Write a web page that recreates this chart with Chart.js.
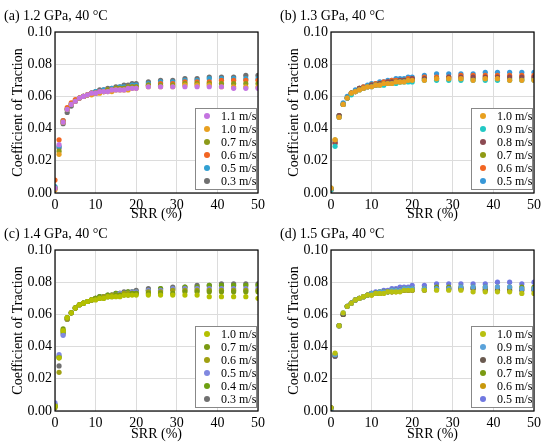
<!DOCTYPE html>
<html>
<head>
<meta charset="utf-8">
<script src="https://cdn.jsdelivr.net/npm/chart.js@4"></script>
<style>
  body { margin: 0; background: #fff; }
  #wrap { position: relative; width: 550px; height: 447px; }
  .panel { position: absolute; }
</style>
</head>
<body>
<div id="wrap">
  <div class="panel" style="left:0;top:0;width:275px;height:223px"><canvas id="cA"></canvas></div>
  <div class="panel" style="left:276px;top:0;width:274px;height:223px"><canvas id="cB"></canvas></div>
  <div class="panel" style="left:0;top:223px;width:275px;height:224px"><canvas id="cC"></canvas></div>
  <div class="panel" style="left:276px;top:223px;width:274px;height:224px"><canvas id="cD"></canvas></div>
</div>
<script>
// SRR (%) sampling points, shared by all panels
const srr = [0, 1, 2, 3, 4, 5, 6, 7, 8, 9, 10, 11, 12, 13, 14, 15, 16, 17, 18, 19, 20,
             23, 26, 29, 32, 35, 38, 41, 44, 47, 50];
const xTicks = [0, 10, 20, 30, 40, 50];
const yTicks = [0.00, 0.02, 0.04, 0.06, 0.08, 0.10];

// (a) 1.2 GPa
const titleA = '(a) 1.2 GPa, 40 \u00B0C';
const speedsA = ['1.1 m/s', '1.0 m/s', '0.7 m/s', '0.6 m/s', '0.5 m/s', '0.3 m/s'];
const colorsA = ['#c474e0', '#e8a020', '#8c9a1a', '#f26522', '#32a0d2', '#707070'];
const cotA = [
  [.003,.030,.044,.052,.055,.057,.059,.060,.061,.062,.062,.063,.063,.063,.064,.064,.064,.064,.065,.065,.065,.066,.066,.066,.066,.066,.066,.066,.065,.065,.065],
  [.002,.024,.044,.052,.055,.057,.059,.060,.061,.061,.062,.062,.063,.063,.063,.064,.064,.064,.064,.065,.065,.066,.066,.066,.067,.067,.067,.066,.066,.066,.066],
  [.003,.026,.044,.052,.055,.057,.059,.060,.061,.062,.062,.063,.063,.064,.064,.065,.065,.065,.066,.066,.066,.067,.067,.067,.068,.068,.068,.068,.068,.068,.068],
  [.008,.033,.045,.053,.056,.058,.059,.060,.061,.062,.062,.063,.063,.064,.064,.065,.065,.065,.066,.066,.066,.067,.068,.068,.069,.069,.069,.070,.070,.070,.070],
  [.004,.029,.045,.052,.055,.057,.059,.060,.061,.062,.063,.063,.064,.064,.065,.065,.066,.066,.066,.067,.067,.068,.069,.069,.070,.070,.071,.071,.071,.071,.071],
  [.003,.028,.043,.050,.054,.057,.059,.060,.061,.062,.063,.064,.064,.065,.065,.066,.066,.067,.067,.068,.068,.069,.070,.070,.071,.071,.072,.072,.072,.073,.073]
];

// (b) 1.3 GPa
const titleB = '(b) 1.3 GPa, 40 \u00B0C';
const speedsB = ['1.0 m/s', '0.9 m/s', '0.8 m/s', '0.7 m/s', '0.6 m/s', '0.5 m/s'];
const colorsB = ['#e8a020', '#22c8c4', '#8c4a52', '#909a14', '#f26522', '#3898d8'];
const cotB = [
  [.003,.033,.047,.055,.059,.062,.063,.064,.065,.066,.066,.067,.067,.068,.068,.068,.069,.069,.069,.070,.070,.070,.071,.071,.071,.070,.071,.071,.070,.070,.070],
  [.002,.029,.047,.055,.059,.061,.063,.064,.065,.066,.066,.067,.067,.067,.068,.068,.068,.069,.069,.069,.069,.070,.070,.070,.070,.070,.070,.070,.070,.070,.070],
  [.002,.031,.048,.055,.059,.062,.063,.065,.065,.066,.067,.067,.068,.068,.069,.069,.069,.070,.070,.070,.071,.071,.071,.072,.072,.072,.072,.072,.072,.072,.072],
  [.003,.033,.048,.055,.059,.062,.063,.065,.065,.066,.067,.067,.068,.068,.068,.069,.069,.069,.070,.070,.070,.071,.071,.071,.071,.071,.071,.071,.071,.071,.071],
  [.002,.031,.047,.055,.059,.062,.063,.065,.066,.066,.067,.068,.068,.069,.069,.070,.070,.070,.070,.071,.071,.072,.072,.072,.073,.073,.073,.073,.073,.073,.073],
  [.003,.032,.048,.056,.060,.062,.064,.065,.066,.067,.068,.068,.069,.069,.070,.070,.071,.071,.071,.072,.072,.073,.074,.074,.074,.074,.075,.075,.075,.075,.075]
];

// (c) 1.4 GPa
const titleC = '(c) 1.4 GPa, 40 \u00B0C';
const speedsC = ['1.0 m/s', '0.7 m/s', '0.6 m/s', '0.5 m/s', '0.4 m/s', '0.3 m/s'];
const colorsC = ['#b4c000', '#7a9a12', '#a0a012', '#8088e0', '#6ea012', '#707070'];
const cotC = [
  [.003,.033,.050,.058,.061,.064,.066,.067,.068,.069,.069,.070,.070,.071,.071,.071,.071,.072,.072,.072,.072,.072,.072,.072,.072,.072,.071,.071,.071,.071,.070],
  [.003,.033,.051,.058,.061,.064,.066,.067,.068,.069,.070,.070,.070,.071,.071,.072,.072,.072,.072,.073,.073,.073,.073,.073,.074,.074,.074,.074,.074,.074,.074],
  [.002,.024,.050,.057,.061,.064,.066,.067,.068,.069,.070,.070,.071,.071,.072,.072,.072,.073,.073,.073,.073,.074,.074,.075,.075,.075,.075,.075,.075,.075,.075],
  [.005,.035,.047,.057,.061,.064,.066,.067,.068,.069,.070,.070,.071,.071,.072,.072,.073,.073,.073,.074,.074,.075,.075,.076,.076,.076,.076,.076,.076,.076,.076],
  [.004,.034,.049,.058,.061,.064,.066,.067,.068,.069,.070,.071,.071,.072,.072,.073,.073,.073,.074,.074,.074,.075,.076,.076,.077,.077,.078,.078,.078,.078,.078],
  [.003,.028,.048,.057,.061,.064,.066,.067,.068,.069,.070,.071,.071,.072,.072,.073,.073,.074,.074,.074,.075,.076,.076,.077,.077,.078,.078,.079,.079,.079,.079]
];

// (d) 1.5 GPa
const titleD = '(d) 1.5 GPa, 40 \u00B0C';
const speedsD = ['1.0 m/s', '0.9 m/s', '0.8 m/s', '0.7 m/s', '0.6 m/s', '0.5 m/s'];
const colorsD = ['#b8c010', '#5aa2da', '#6a5a50', '#7a9a12', '#c8980c', '#7078e0'];
const cotD = [
  [.002,.036,.053,.061,.065,.067,.069,.070,.071,.072,.072,.073,.073,.073,.074,.074,.074,.074,.075,.075,.075,.075,.075,.075,.075,.074,.074,.074,.074,.073,.073],
  [.001,.035,.053,.061,.065,.067,.069,.070,.071,.072,.073,.073,.074,.074,.074,.075,.075,.075,.076,.076,.076,.076,.076,.076,.077,.077,.077,.077,.077,.076,.076],
  [.002,.034,.053,.060,.065,.067,.069,.070,.071,.072,.073,.073,.073,.074,.074,.074,.075,.075,.075,.075,.075,.075,.076,.076,.076,.076,.075,.075,.075,.075,.075],
  [.002,.035,.053,.060,.065,.067,.069,.070,.071,.072,.073,.073,.074,.074,.074,.075,.075,.075,.076,.076,.076,.076,.077,.077,.077,.077,.077,.077,.077,.077,.077],
  [.002,.035,.053,.060,.065,.067,.069,.070,.071,.072,.072,.073,.073,.074,.074,.074,.074,.075,.075,.075,.075,.076,.076,.076,.076,.076,.076,.076,.076,.076,.076],
  [.002,.034,.053,.060,.065,.067,.069,.070,.071,.072,.073,.074,.074,.075,.075,.076,.076,.077,.077,.077,.078,.078,.079,.079,.079,.079,.079,.080,.080,.079,.080]
];

const FONT = '"Liberation Serif", "Times New Roman", serif';

// frame, panel title and the inset legend
const panelDecor = {
  id: 'panelDecor',
  afterDraw(chart, args, opts) {
    const ctx = chart.ctx;
    const a = chart.chartArea;
    ctx.save();
    ctx.strokeStyle = '#000';
    ctx.lineWidth = 1.2;
    ctx.strokeRect(a.left, a.top, a.right - a.left, a.bottom - a.top);

    ctx.fillStyle = '#000';
    ctx.font = '14px ' + FONT;
    ctx.textAlign = 'left';
    ctx.textBaseline = 'middle';
    ctx.fillText(opts.title, 4, a.top - 16);

    const bw = 61, bh = 81;
    const bx = a.right - 63, by = a.bottom - 4 - bh;
    ctx.fillStyle = '#fff';
    ctx.fillRect(bx, by, bw, bh);
    ctx.strokeStyle = '#888';
    ctx.lineWidth = 1;
    ctx.strokeRect(bx + 0.5, by + 0.5, bw, bh);
    ctx.font = '12px ' + FONT;
    chart.data.datasets.forEach((ds, i) => {
      const y = by + 8 + i * 13;
      ctx.fillStyle = ds.backgroundColor;
      ctx.beginPath();
      ctx.arc(bx + 12, y, 3, 0, Math.PI * 2);
      ctx.fill();
      ctx.fillStyle = '#000';
      ctx.fillText(ds.label, bx + 26, y + 1);
    });
    ctx.restore();
  }
};

function makePanel(id, title, speeds, colors, values, topPad, xHeight, xTitlePad, rightPad) {
  const datasets = speeds.map((s, i) => ({
    label: s,
    data: srr.map((x, j) => ({ x: x, y: values[i][j] })),
    backgroundColor: colors[i],
    borderColor: colors[i],
    borderWidth: 0,
    pointRadius: 2.6,
    pointHoverRadius: 2.6
  }));
  new Chart(document.getElementById(id), {
    type: 'scatter',
    data: { datasets: datasets },
    plugins: [panelDecor],
    options: {
      responsive: true,
      maintainAspectRatio: false,
      animation: false,
      events: [],
      layout: { padding: { top: topPad, right: rightPad, left: 0, bottom: 0 } },
      plugins: {
        legend: { display: false },
        tooltip: { enabled: false },
        panelDecor: { title: title }
      },
      scales: {
        x: {
          type: 'linear',
          min: 0, max: 50,
          afterBuildTicks: s => { s.ticks = xTicks.map(v => ({ value: v })); },
          afterFit: s => { s.height = xHeight; },
          grid: { color: '#dcdcdc', lineWidth: 1, drawTicks: false },
          border: { display: false },
          ticks: { color: '#000', padding: 4, font: { family: FONT, size: 14 }, maxRotation: 0 },
          title: { display: true, text: 'SRR (%)', color: '#000', font: { family: FONT, size: 14 }, padding: { top: 0, bottom: xTitlePad } }
        },
        y: {
          type: 'linear',
          min: 0, max: 0.1,
          afterBuildTicks: s => { s.ticks = yTicks.map(v => ({ value: v })); },
          afterFit: s => { s.width = 55; },
          grid: { color: '#dcdcdc', lineWidth: 1, drawTicks: false },
          border: { display: false },
          ticks: { color: '#000', padding: 3, font: { family: FONT, size: 14 }, callback: v => v.toFixed(2) },
          title: { display: true, text: 'Coefficient of Traction', color: '#000', font: { family: FONT, size: 14 }, padding: { top: 10, bottom: 0 } }
        }
      }
    }
  });
}

makePanel('cA', titleA, speedsA, colorsA, cotA, 32, 30, 0, 17);
makePanel('cB', titleB, speedsB, colorsB, cotB, 32, 30, 0, 16);
makePanel('cC', titleC, speedsC, colorsC, cotC, 27, 36, 4, 17);
makePanel('cD', titleD, speedsD, colorsD, cotD, 27, 36, 4, 16);
</script>
</body>
</html>
